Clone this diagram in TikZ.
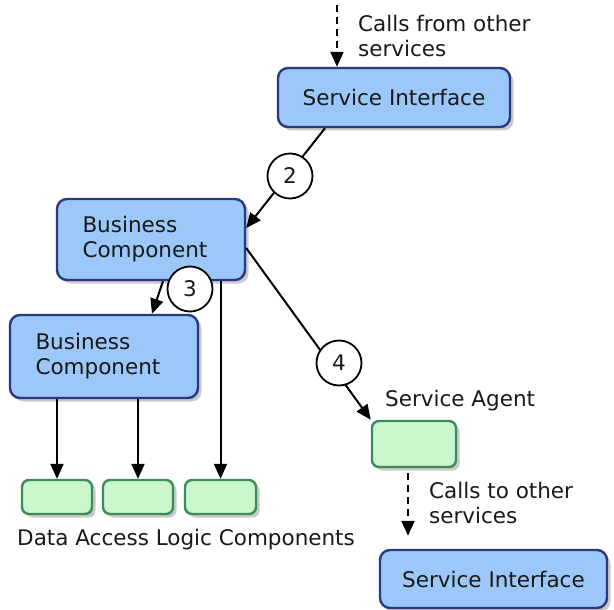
\documentclass[tikz,border=0pt]{standalone}
\usepackage{fontspec}
\setmainfont{DejaVu Sans}
\usetikzlibrary{arrows.meta,shadows}
\definecolor{bluefill}{RGB}{155,200,248}
\definecolor{blueedge}{RGB}{42,56,128}
\definecolor{greenfill}{RGB}{202,246,204}
\definecolor{greenedge}{RGB}{62,138,92}
\begin{document}
\begin{tikzpicture}[x=1pt,y=-1pt,
  every node/.style={font=\fontsize{21.5}{25}\selectfont, text=black!90},
  softshadow/.style={drop shadow={shadow xshift=3.5pt, shadow yshift=-3.5pt, opacity=0.3, fill=black!70}},
  bluebox/.style={draw=blueedge, line width=2.4pt, fill=bluefill, rounded corners=10pt, inner sep=0pt, softshadow},
  greenbox/.style={draw=greenedge, line width=2.4pt, fill=greenfill, rounded corners=7pt, inner sep=0pt, softshadow},
  numcircle/.style={circle, draw, line width=1.8pt, fill=white, minimum size=45pt, inner sep=0pt},
  caption/.style={inner sep=0pt, align=left},
  arr/.style={line width=2pt, -{Triangle[length=15pt,width=13pt]}},
  dashedarr/.style={arr, dash pattern=on 7pt off 5pt}
]
\useasboundingbox (0,0) rectangle (614,610);

% components
\node[bluebox, minimum width=232pt, minimum height=59pt] (si1) at (394,97.5) {Service Interface};
\node[bluebox, minimum width=188pt, minimum height=81pt, text width=137pt, align=left] (bc1) at (151,239.5) {Business\\Component};
\node[bluebox, minimum width=188pt, minimum height=83pt, text width=137pt, align=left] (bc2) at (104,356.5) {Business\\Component};
\node[greenbox, minimum width=70pt, minimum height=34pt] (dal1) at (57,497) {};
\node[greenbox, minimum width=70pt, minimum height=34pt] (dal2) at (138,497) {};
\node[greenbox, minimum width=71pt, minimum height=34pt] (dal3) at (220.5,497) {};
\node[greenbox, minimum width=84pt, minimum height=46pt] (sa) at (414,444) {};
\node[bluebox, minimum width=227pt, minimum height=58pt] (si2) at (493.5,579) {Service Interface};

% captions (base anchor sits on the last line)
\node[caption, anchor=base west] (fromlbl) at (358,57) {Calls from other\\services};
\node[caption, anchor=base west] (salbl) at (385,406) {Service Agent};
\node[caption, anchor=base west] (dallbl) at (17,545) {Data Access Logic Components};
\node[caption, anchor=base west] (tolbl) at (429,523) {Calls to other\\services};

% connectors
\coordinate (caller) at (337,5);
\draw[dashedarr] (caller) -- (caller |- si1.north);
\draw[arr] (si1.south -| 325,0) -- (bc1.east |- 0,228);
\draw[arr] (bc1.south -| 163,0) -- (bc2.north -| 152,0);
\draw[arr] (bc1.south -| dal3.north) -- (dal3.north);
\draw[arr] (bc2.south -| dal1.north) -- (dal1.north);
\draw[arr] (bc2.south -| dal2.north) -- (dal2.north);
\draw[arr] (bc1.east |- 0,248) -- (sa.north west);
\draw[dashedarr, shorten <=5pt, shorten >=13pt] (sa.south -| 408,0) -- (si2.north -| 408,0);

% step numbers
\node[numcircle] (n2) at (290,176) {2};
\node[numcircle] (n3) at (190,289) {3};
\node[numcircle] (n4) at (339,363) {4};
\end{tikzpicture}
\end{document}
